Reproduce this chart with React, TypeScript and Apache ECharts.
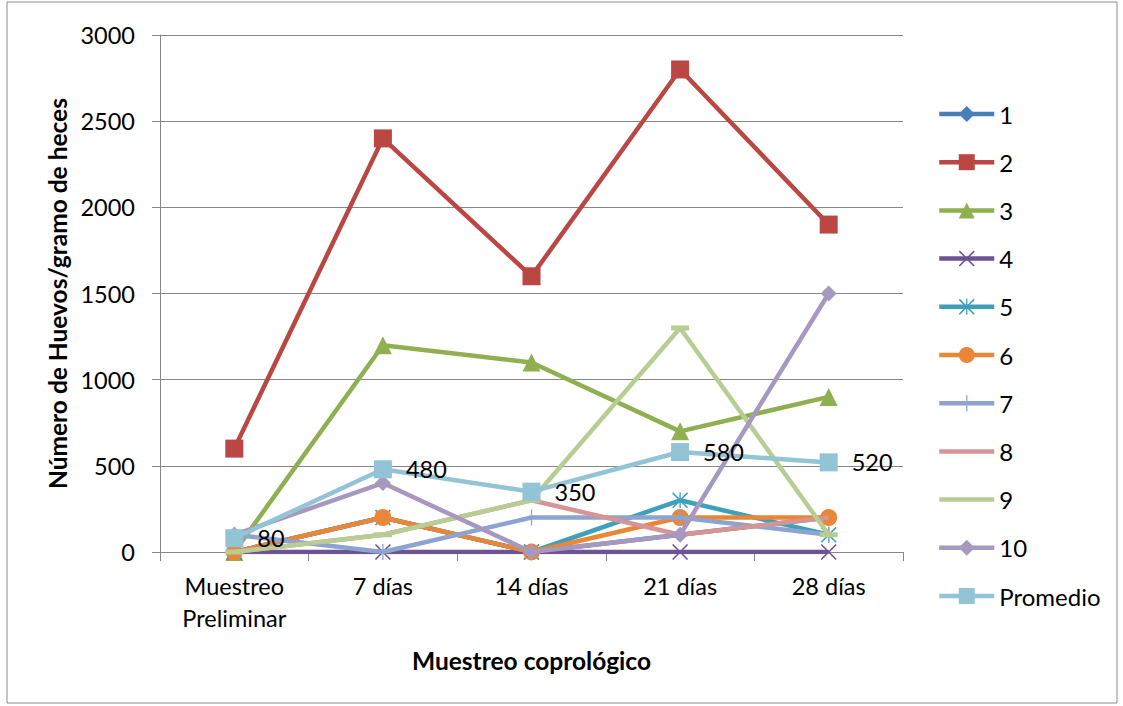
import React, { useEffect, useRef } from "react";
import * as echarts from "echarts";

const categories = ["Muestreo\nPreliminar", "7 días", "14 días", "21 días", "28 días"];
const seriesNames = ["1", "2", "3", "4", "5", "6", "7", "8", "9", "10", "Promedio"];
const s1 = [0, 200, 0, 100, 200];
const s2 = [600, 2400, 1600, 2800, 1900];
const s3 = [0, 1200, 1100, 700, 900];
const s4 = [0, 0, 0, 0, 0];
const s5 = [0, 200, 0, 300, 100];
const s6 = [0, 200, 0, 200, 200];
const s7 = [100, 0, 200, 200, 100];
const s8 = [0, 100, 300, 100, 200];
const s9 = [0, 100, 300, 1300, 100];
const s10 = [100, 400, 0, 100, 1500];
const promedio = [80, 480, 350, 580, 520];
const yTicks = { min: 0, max: 3000, interval: 500 };

const colors = [
  "#4A7EBB", "#BA4744", "#8FAF50", "#6E5297", "#3FA0BC", "#EA8638",
  "#8DA4CF", "#D69494", "#B7CD94", "#A698BE", "#92C4D6",
];

const X_PATH = "path://M0,0.7L0.7,0L5,4.3L9.3,0L10,0.7L5.7,5L10,9.3L9.3,10L5,5.7L0.7,10L0,9.3L4.3,5Z";
const AST_PATH = X_PATH + "M4.6,0L5.4,0L5.4,10L4.6,10Z";
const PLUS_PATH = "path://M4.6,0L5.4,0L5.4,10L4.6,10ZM0,4.6L10,4.6L10,5.4L0,5.4Z";
const DASH_PATH = "path://M0,0L10,0L10,3L0,3Z";

const FONT = "Lato, 'Open Sans', sans-serif";

export default function App() {
  const ref = useRef<HTMLDivElement>(null);
  useEffect(() => {
    if (!ref.current) return;
    const chart = echarts.init(ref.current, null, { renderer: "svg" });
    const data = [s1, s2, s3, s4, s5, s6, s7, s8, s9, s10, promedio];
    const symbols: any[] = [
      ["diamond", 15],
      ["rect", 18],
      ["triangle", 18],
      [X_PATH, 16],
      [AST_PATH, 16],
      ["circle", 17],
      [PLUS_PATH, 16],
      ["none", 0],
      [DASH_PATH, [18, 5]],
      ["diamond", 16],
      ["rect", 18],
    ];
    const series = data.map((d, i) => ({
      name: seriesNames[i],
      type: "line",
      data: d,
      symbol: symbols[i][0],
      symbolSize: symbols[i][1],
      showSymbol: symbols[i][0] !== "none",
      lineStyle: { width: 4.5, color: colors[i] },
      itemStyle: { color: colors[i] },
      z: 2 + i * 0.01,
      label:
        i === 10
          ? {
              show: true,
              position: "right",
              distance: 14,
              fontSize: 23.5,
              color: "#000",
              fontFamily: FONT,
            }
          : { show: false },
    }));
    const legendData = seriesNames.map((n, i) =>
      i === 7 || i === 8 ? { name: n, itemStyle: { opacity: 0 } } : { name: n }
    );
    chart.setOption({
      animation: false,
      color: colors,
      textStyle: { fontFamily: FONT },
      grid: { left: 160, top: 35, width: 743, height: 517, containLabel: false },
      graphic: [
        {
          type: "rect",
          shape: { x: 7, y: 2, width: 1110, height: 701 },
          style: { fill: "none", stroke: "#8c8c8c", lineWidth: 1 },
          silent: true,
        },
      ],
      legend: {
        orient: "vertical",
        left: 932,
        top: 97,
        itemWidth: 55,
        itemHeight: 20,
        itemGap: 24.2,
        lineStyle: { width: 4.5 },
        data: legendData,
        textStyle: { fontSize: 24, color: "#000", fontFamily: FONT },
      },
      xAxis: {
        type: "category",
        data: categories,
        boundaryGap: true,
        name: "Muestreo coprológico",
        nameLocation: "middle",
        nameGap: 96,
        nameTextStyle: { fontSize: 24.5, fontWeight: "bold", color: "#000", fontFamily: FONT },
        axisLine: { lineStyle: { color: "#868686", width: 1 } },
        axisTick: { show: true, length: 9, lineStyle: { color: "#868686" } },
        axisLabel: { fontSize: 23.5, color: "#000", lineHeight: 32, margin: 18, fontFamily: FONT },
        splitLine: { show: false },
      },
      yAxis: {
        type: "value",
        min: yTicks.min,
        max: yTicks.max,
        interval: yTicks.interval,
        name: "Número de Huevos/gramo de heces",
        nameLocation: "middle",
        nameGap: 88,
        nameTextStyle: { fontSize: 24.5, fontWeight: "bold", color: "#000", fontFamily: FONT },
        axisLine: { show: true, lineStyle: { color: "#868686", width: 1 } },
        axisTick: { show: true, length: 8, lineStyle: { color: "#868686" } },
        axisLabel: {
          fontSize: 23.5,
          color: "#000",
          margin: 25,
          fontFamily: FONT,
          formatter: (v: number) => String(v),
        },
        splitLine: { show: true, lineStyle: { color: "#868686", width: 1 } },
      },
      series,
    });
    return () => chart.dispose();
  }, []);
  return (
    <div
      ref={ref}
      style={{ position: "absolute", left: 0, top: 0, width: 1123, height: 706, background: "#fff" }}
    />
  );
}
